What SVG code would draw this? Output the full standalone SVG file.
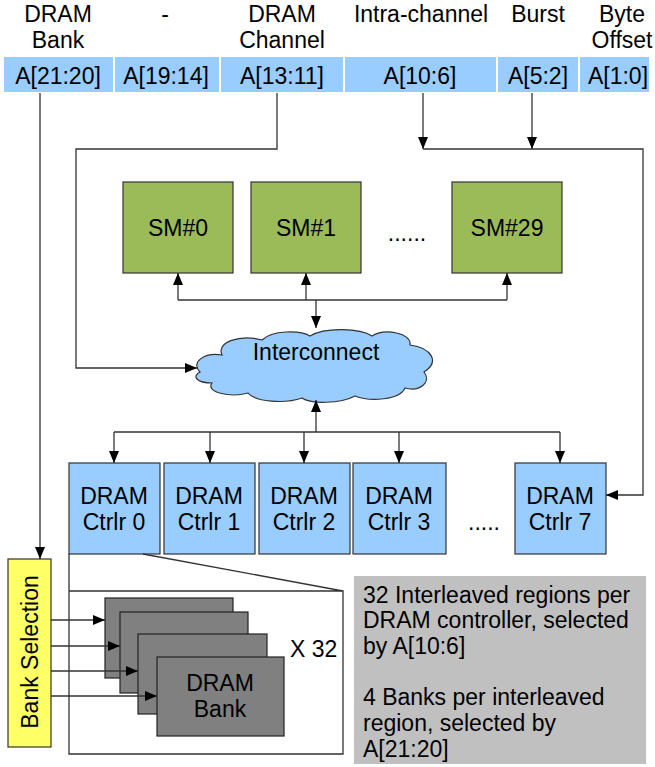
<svg xmlns="http://www.w3.org/2000/svg" width="655" height="767" viewBox="0 0 655 767">
<defs>
<marker id="ah" viewBox="0 0 12 10" refX="12" refY="5" markerWidth="12" markerHeight="10" markerUnits="userSpaceOnUse" orient="auto">
<path d="M0,0 L12,5 L0,10 Z" fill="#000"/>
</marker>
</defs>
<style>
text{font-family:"Liberation Sans",Arial,sans-serif;font-size:23px;fill:#000}
.c{text-anchor:middle}
.seg{fill:#99CCFF}
.sm{fill:#9BBB59;stroke:#333;stroke-width:1.2}
.ctl{fill:#99CCFF;stroke:#333;stroke-width:1.2}
.bank{fill:#808080;stroke:#222;stroke-width:1.2}
.ln{fill:none;stroke:#333;stroke-width:1.3}
.ar{fill:none;stroke:#333;stroke-width:1.3;marker-end:url(#ah)}
</style>
<rect width="655" height="767" fill="#fff"/>

<g id="header">
<text class="c" x="58" y="22">DRAM</text>
<text class="c" x="58" y="48">Bank</text>
<text class="c" x="165" y="22">-</text>
<text class="c" x="282" y="22">DRAM</text>
<text class="c" x="282" y="48">Channel</text>
<text class="c" x="421" y="22">Intra-channel</text>
<text class="c" x="538" y="22">Burst</text>
<text class="c" x="622" y="22">Byte</text>
<text class="c" x="622" y="48">Offset</text>
</g>

<g id="address">
<rect class="seg" x="4" y="57" width="109" height="35"/>
<rect class="seg" x="115" y="57" width="104" height="35"/>
<rect class="seg" x="221" y="57" width="122" height="35"/>
<rect class="seg" x="345" y="57" width="151" height="35"/>
<rect class="seg" x="498" y="57" width="80" height="35"/>
<rect class="seg" x="580" y="57" width="69" height="35"/>
<text class="c" x="58" y="84">A[21:20]</text>
<text class="c" x="166" y="84">A[19:14]</text>
<text class="c" x="282" y="84">A[13:11]</text>
<text class="c" x="420" y="84">A[10:6]</text>
<text class="c" x="538" y="84">A[5:2]</text>
<text class="c" x="618" y="84">A[1:0]</text>
</g>

<g id="sm0"><rect class="sm" x="123" y="182" width="110" height="91"/><text class="c" x="178" y="236">SM#0</text></g>
<g id="sm1"><rect class="sm" x="251" y="182" width="110" height="91"/><text class="c" x="306" y="236">SM#1</text></g>
<g id="smdots"><text class="c" x="407" y="241">......</text></g>
<g id="sm29"><rect class="sm" x="452" y="182" width="110" height="91"/><text class="c" x="507" y="236">SM#29</text></g>

<g id="interconnect">
<path d="M200,372 C190,362 205,352 222,355 C216,342 240,334 262,340 C272,330 300,330 310,336 C325,327 360,328 372,336 C385,328 412,333 410,345 C432,348 440,362 424,372 C432,382 420,392 405,388 C400,400 370,402 355,396 C340,404 310,404 302,398 C285,404 255,402 248,393 C230,398 205,392 212,383 C196,383 192,376 200,372 Z" fill="#99CCFF" stroke="#333" stroke-width="1.2"/>
<text class="c" x="316" y="360">Interconnect</text>
</g>

<g id="ctrl0"><rect class="ctl" x="69" y="463" width="91" height="91"/><text class="c" x="114" y="504">DRAM</text><text class="c" x="114" y="530">Ctrlr 0</text></g>
<g id="ctrl1"><rect class="ctl" x="164" y="463" width="91" height="91"/><text class="c" x="209" y="504">DRAM</text><text class="c" x="209" y="530">Ctrlr 1</text></g>
<g id="ctrl2"><rect class="ctl" x="259" y="463" width="91" height="91"/><text class="c" x="304" y="504">DRAM</text><text class="c" x="304" y="530">Ctrlr 2</text></g>
<g id="ctrl3"><rect class="ctl" x="353" y="463" width="93" height="91"/><text class="c" x="399" y="504">DRAM</text><text class="c" x="399" y="530">Ctrlr 3</text></g>
<g id="ctrldots"><text class="c" x="484" y="530">.....</text></g>
<g id="ctrl7"><rect class="ctl" x="515" y="463" width="91" height="91"/><text class="c" x="560" y="504">DRAM</text><text class="c" x="560" y="530">Ctrlr 7</text></g>

<g id="bankselect">
<rect x="8" y="559" width="43" height="188" fill="#FFFF66" stroke="#333" stroke-width="1.2"/>
<text class="c" x="0" y="0" transform="translate(38,652) rotate(-90)">Bank Selection</text>
</g>

<g id="zoomframe">
<path class="ln" d="M69,554 L69,754 L343,754 L343,591 L69,591 M143,554 L343,591"/>
</g>

<g id="banks">
<rect class="bank" x="105" y="598" width="128" height="80"/>
<rect class="bank" x="120" y="612" width="128" height="81"/>
<rect class="bank" x="138" y="634" width="129" height="80"/>
<rect class="bank" x="157" y="657" width="127" height="79"/>
<text class="c" x="220" y="691">DRAM</text>
<text class="c" x="220" y="717">Bank</text>
<text x="290" y="657">X 32</text>
</g>

<g id="note">
<rect x="354" y="576" width="292" height="188" fill="#C0C0C0"/>
<text x="363" y="603">32 Interleaved regions per</text>
<text x="363" y="628">DRAM controller, selected</text>
<text x="363" y="654">by A[10:6]</text>
<text x="363" y="705">4 Banks per interleaved</text>
<text x="363" y="731">region, selected by</text>
<text x="363" y="757">A[21:20]</text>
</g>

<g id="connectors">
<path class="ar" d="M40,93 L40,559"/>
<path class="ar" d="M277,93 L277,149 L76,149 L76,368 L197,368"/>
<path class="ar" d="M423,93 L423,149"/>
<path class="ar" d="M532,93 L532,149"/>
<path class="ar" d="M423,149 L643,149 L643,495 L606,495"/>
<path class="ln" d="M178,300 L507,300"/>
<path class="ar" d="M178,300 L178,273"/>
<path class="ar" d="M306,300 L306,273"/>
<path class="ar" d="M507,300 L507,273"/>
<path class="ar" d="M316,300 L316,328"/>
<path class="ar" d="M316,432 L316,400"/>
<path class="ln" d="M114,432 L560,432"/>
<path class="ar" d="M114,432 L114,463"/>
<path class="ar" d="M210,432 L210,463"/>
<path class="ar" d="M304,432 L304,463"/>
<path class="ar" d="M399,432 L399,463"/>
<path class="ar" d="M560,432 L560,463"/>
<path class="ar" d="M51,620 L105,620"/>
<path class="ar" d="M51,646 L120,646"/>
<path class="ar" d="M51,671 L138,671"/>
<path class="ar" d="M51,696 L157,696"/>
</g>
</svg>
